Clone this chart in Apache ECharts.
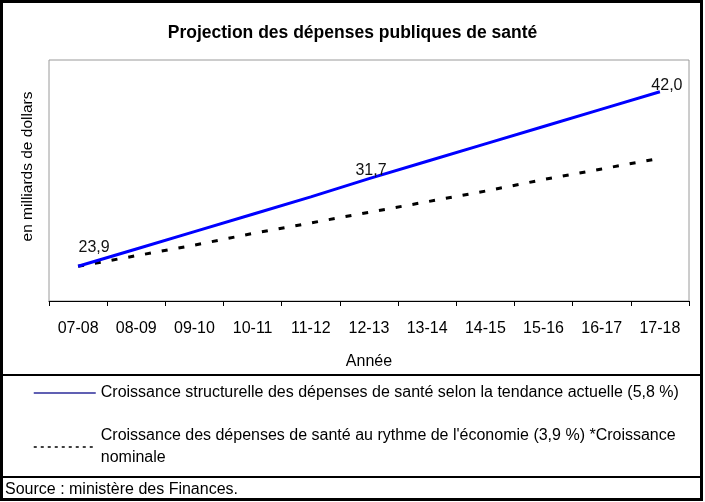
<!DOCTYPE html>
<html>
<head>
<meta charset="utf-8">
<title>Projection des dépenses publiques de santé</title>
<script src="https://cdn.jsdelivr.net/npm/echarts@6/dist/echarts.min.js"></script>
<style>
  html, body { margin: 0; padding: 0; background: #fff; }
  #chart { width: 705px; height: 502px; }
</style>
</head>
<body>
<div id="chart"></div>
<script>
// données
var annees = ['07-08', '08-09', '09-10', '10-11', '11-12', '12-13', '13-14', '14-15', '15-16', '16-17', '17-18'];
var structurelle = [23.9, 25.7, 27.5, 29.3, 31.1, 33.0, 34.8, 36.6, 38.4, 40.2, 42.0];
var economie = [23.9, 25.0, 26.1, 27.3, 28.4, 29.5, 30.6, 31.7, 32.9, 34.0, 35.1];
// valeurs inscrites sur la courbe bleue
var etiquettesIndex = [0, 5, 10];
var etiquettesTexte = ['23,9', '31,7', '42,0'];

var nomStruct = 'Croissance structurelle des dépenses de santé selon la tendance actuelle (5,8 %)';
var nomEco = "Croissance des dépenses de santé au rythme de l'économie (3,9 %) *Croissance\nnominale";

var police = '"Liberation Sans", Arial, sans-serif';

var decalages = [[16, -5], [2, 6], [7, 7]];
var donneesStruct = structurelle.map(function (v, i) {
    var k = etiquettesIndex.indexOf(i);
    if (k < 0) return v;
    return {
        value: v,
        label: {
            show: true,
            position: 'top',
            offset: decalages[k],
            formatter: etiquettesTexte[k]
        }
    };
});

var myChart = echarts.init(document.getElementById('chart'));
var option = {
    backgroundColor: '#fff',
    animation: false,
    textStyle: { fontFamily: police },
    title: {
        text: 'Projection des dépenses publiques de santé',
        left: 'center',
        top: 19,
        textStyle: { fontFamily: police, fontSize: 17.5, fontWeight: 'bold', color: '#000' }
    },
    legend: [
        {
            data: [{ name: nomStruct, lineStyle: { color: '#2b2b9a', width: 1.5, type: 'solid' },
                     itemStyle: { opacity: 0 } }],
            orient: 'vertical',
            left: 33,
            top: 382,
            padding: 0,
            itemWidth: 62,
            itemHeight: 14,
            selectedMode: false,
            textStyle: { fontFamily: police, fontSize: 16, color: '#000', lineHeight: 22 }
        },
        {
            data: [{ name: nomEco, lineStyle: { color: '#000', width: 1.5, type: [3, 4] },
                     itemStyle: { opacity: 0 },
                     textStyle: { padding: [22, 0, 0, 0] } }],
            orient: 'vertical',
            left: 33,
            top: 414,
            padding: 0,
            itemWidth: 62,
            itemHeight: 14,
            selectedMode: false,
            textStyle: { fontFamily: police, fontSize: 16, color: '#000', lineHeight: 22 }
        }
    ],
    grid: {
        left: 49,
        right: 16,
        top: 60,
        bottom: 201,
        show: true,
        borderColor: '#9a9a9a',
        borderWidth: 1,
        backgroundColor: '#fff'
    },
    xAxis: {
        type: 'category',
        data: annees,
        boundaryGap: true,
        name: 'Année',
        nameLocation: 'middle',
        nameGap: 53,
        nameTextStyle: { fontFamily: police, fontSize: 16, color: '#000' },
        axisLine: { lineStyle: { color: '#000', width: 1 } },
        axisTick: { show: true, length: 5, inside: false, lineStyle: { color: '#000' } },
        axisLabel: { interval: 0, margin: 20, fontFamily: police, fontSize: 16, color: '#000' },
        splitLine: { show: false }
    },
    yAxis: {
        type: 'value',
        min: 20.3,
        max: 45.3,
        name: 'en milliards de dollars',
        nameLocation: 'middle',
        nameGap: 13,
        nameTextStyle: { fontFamily: police, fontSize: 15.5, color: '#000', padding: [0, 0, 0, 28] },
        axisLine: { show: false },
        axisTick: { show: false },
        axisLabel: { show: false },
        splitLine: { show: false }
    },
    series: [
        {
            name: nomStruct,
            type: 'line',
            data: donneesStruct,
            symbol: 'circle',
            symbolSize: 1,
            showSymbol: true,
            itemStyle: { color: 'rgba(0,0,255,0)' },
            lineStyle: { color: '#0000ff', width: 3 },
            label: { fontFamily: police, fontSize: 16, color: '#111' },
            z: 3
        },
        {
            name: nomEco,
            type: 'line',
            data: economie,
            symbol: 'none',
            lineStyle: { color: '#000', width: 3, type: [6, 11] },
            itemStyle: { color: '#000' },
            z: 2
        }
    ],
    graphic: [
        { type: 'rect', shape: { x: 1.5, y: 1.5, width: 700, height: 498 },
          style: { fill: 'none', stroke: '#000', lineWidth: 3 }, silent: true },
        { type: 'line', shape: { x1: 2, y1: 375, x2: 701, y2: 375 },
          style: { stroke: '#000', lineWidth: 2 }, silent: true },
        { type: 'line', shape: { x1: 2, y1: 477, x2: 701, y2: 477 },
          style: { stroke: '#000', lineWidth: 2 }, silent: true },
        { type: 'text', left: 5, top: 482,
          style: { text: 'Source : ministère des Finances.', fontFamily: police, fontSize: 16, fill: '#000' } }
    ]
};
myChart.setOption(option);
</script>
</body>
</html>
